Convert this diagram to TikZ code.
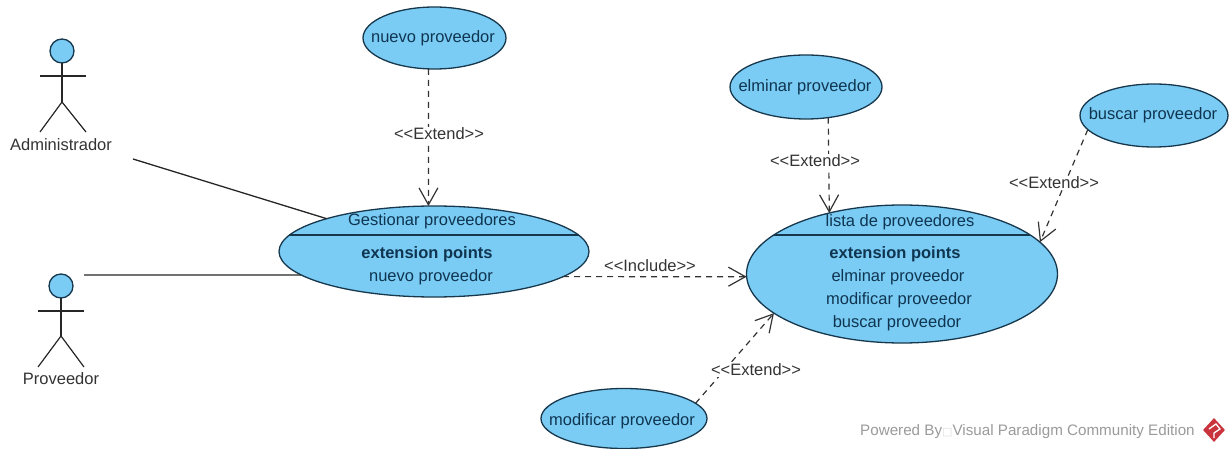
\documentclass[tikz,border=0pt]{standalone}
\usepackage{fontspec}
\setmainfont{Liberation Sans}
\newfontfamily\symfont{DejaVu Sans}
\usetikzlibrary{shapes.geometric,arrows.meta,calc}
\definecolor{ucfill}{HTML}{7ACCF5}
\definecolor{ucline}{HTML}{17384C}
\definecolor{uctext}{HTML}{0F3550}
\definecolor{lbltext}{HTML}{333333}
\definecolor{wmtext}{HTML}{9A9A9A}
\definecolor{logored}{HTML}{C8333C}
\tikzset{
  x=1pt,y=-1pt,
  every node/.style={font=\fontsize{16.5}{19}\selectfont},
  usecase/.style={ellipse,draw=ucline,fill=ucfill,line width=1.3pt,inner sep=0pt,outer sep=0pt},
  uctxt/.style={inner sep=0pt,text=uctext},
  boldtxt/.style={uctxt,font=\fontsize{16.5}{19}\selectfont\bfseries},
  actorhead/.style={circle,draw=ucline,fill=ucfill,line width=1.3pt,minimum size=24pt,inner sep=0pt,outer sep=0pt},
  actorline/.style={draw=black!85,line width=1.2pt},
  actorname/.style={inner sep=0pt,text=lbltext},
  assoc/.style={draw=black!85,line width=1.3pt},
  depend/.style={draw=black!80,line width=1.2pt,dash pattern=on 6pt off 5pt,
    -{Straight Barb[length=17pt,width=19pt,line width=1.2pt]}},
  deplabel/.style={fill=white,inner sep=1pt,text=lbltext},
  chord/.style={draw=ucline,line width=1.3pt}
}
\begin{document}
\begin{tikzpicture}
\useasboundingbox (0,0) rectangle (1232,449);
% use cases
\node[usecase,minimum width=143pt,minimum height=62pt] (nuevo) at (434.5,38) {};
\node[usecase,minimum width=310pt,minimum height=91pt] (gest) at (434,251.5) {};
\node[usecase,minimum width=311pt,minimum height=138pt] (lista) at (902,274) {};
\node[usecase,minimum width=152pt,minimum height=64pt] (elim) at (806,87) {};
\node[usecase,minimum width=148pt,minimum height=63pt] (busc) at (1154,115.5) {};
\node[usecase,minimum width=166pt,minimum height=60pt] (modi) at (624,418.5) {};
% compartments
\draw[chord] ($(gest.center)+(-145,-16.5)$) -- ($(gest.center)+(145,-16.5)$);
\draw[chord] ($(lista.center)+(-128,-39)$) -- ($(lista.center)+(128,-39)$);
\node[uctxt] (t9) at (433,38) {nuevo proveedor};
\node[uctxt] (t10) at (805,87) {elminar proveedor};
\node[uctxt] (t11) at (1153,115.5) {buscar proveedor};
\node[uctxt] (t12) at (622,421) {modificar proveedor};
\node[uctxt] (t1) at (432,221) {Gestionar proveedores};
\node[boldtxt] (t2) at (427,254) {extension points};
\node[uctxt] (t3) at (431,277) {nuevo proveedor};
\node[uctxt] (t4) at (900,222) {lista de proveedores};
\node[boldtxt] (t5) at (895,254) {extension points};
\node[uctxt] (t6) at (898,277) {elminar proveedor};
\node[uctxt] (t7) at (899,300) {modificar proveedor};
\node[uctxt] (t8) at (897,323) {buscar proveedor};
% actor Administrador
\node[actorhead] (ahead) at (62,51) {};
\coordinate (ahip) at (62,102);
\coordinate (aarml) at (40,76);
\coordinate (aarmr) at (86,76);
\coordinate (alegl) at (40,132);
\coordinate (alegr) at (86,132);
\draw[actorline] (ahead.south) -- (ahip);
\draw[actorline] (aarml) -- (aarmr);
\draw[actorline] (alegl) -- (ahip) -- (alegr);
\node[actorname] (aname) at (61,145) {Administrador};
% actor Proveedor
\node[actorhead] (phead) at (61,286) {};
\coordinate (phip) at (61,336);
\coordinate (parml) at (38,311);
\coordinate (parmr) at (84,311);
\coordinate (plegl) at (38,367);
\coordinate (plegr) at (84,367);
\draw[actorline] (phead.south) -- (phip);
\draw[actorline] (parml) -- (parmr);
\draw[actorline] (plegl) -- (phip) -- (plegr);
\node[actorname] (pname) at (61,379) {Proveedor};
% associations
\coordinate (afree) at (133,159);
\coordinate (pfree) at (84,275);
\draw[assoc] (afree) -- (gest.163.9);
\draw[assoc] (pfree) -- (gest.190.2);
% dependencies
\draw[depend] (nuevo.259) -- (gest.97.5);
\draw[depend] (gest.-11.8) -- (lista.181.5);
\draw[depend] (elim.-54.3) -- (lista.140.5);
\draw[depend] (busc.192.2) -- (lista.13);
\draw[depend] (modi.12.7) -- (lista.197);
\node[deplabel] (l1) at (439,134) {<{}<Extend>{}>};
\node[inner sep=0pt,text=lbltext] (l2) at (650,266) {<{}<Include>{}>};
\node[deplabel] (l3) at (815,161) {<{}<Extend>{}>};
\node[deplabel] (l4) at (1054,183) {<{}<Extend>{}>};
\node[deplabel] (l5) at (756,370) {<{}<Extend>{}>};
% watermark
\node[inner sep=0pt,anchor=west,text=wmtext,font=\fontsize{15.2}{17}\selectfont] (wm) at (860,431.5) {Powered By{\symfont\color{wmtext!35}\fontsize{11}{12}\selectfont □}Visual Paradigm Community Edition};
\node[diamond,fill=logored,minimum width=22pt,minimum height=24pt,inner sep=0pt] (logo) at (1214,430) {};
\draw[white,line width=1.3pt] ($(logo.center)+(-5,-1)$) -- ($(logo.center)+(2,-6)$) -- ($(logo.center)+(6,-1)$) -- ($(logo.center)+(0,3)$) -- ($(logo.center)+(0,8)$);
\end{tikzpicture}
\end{document}
